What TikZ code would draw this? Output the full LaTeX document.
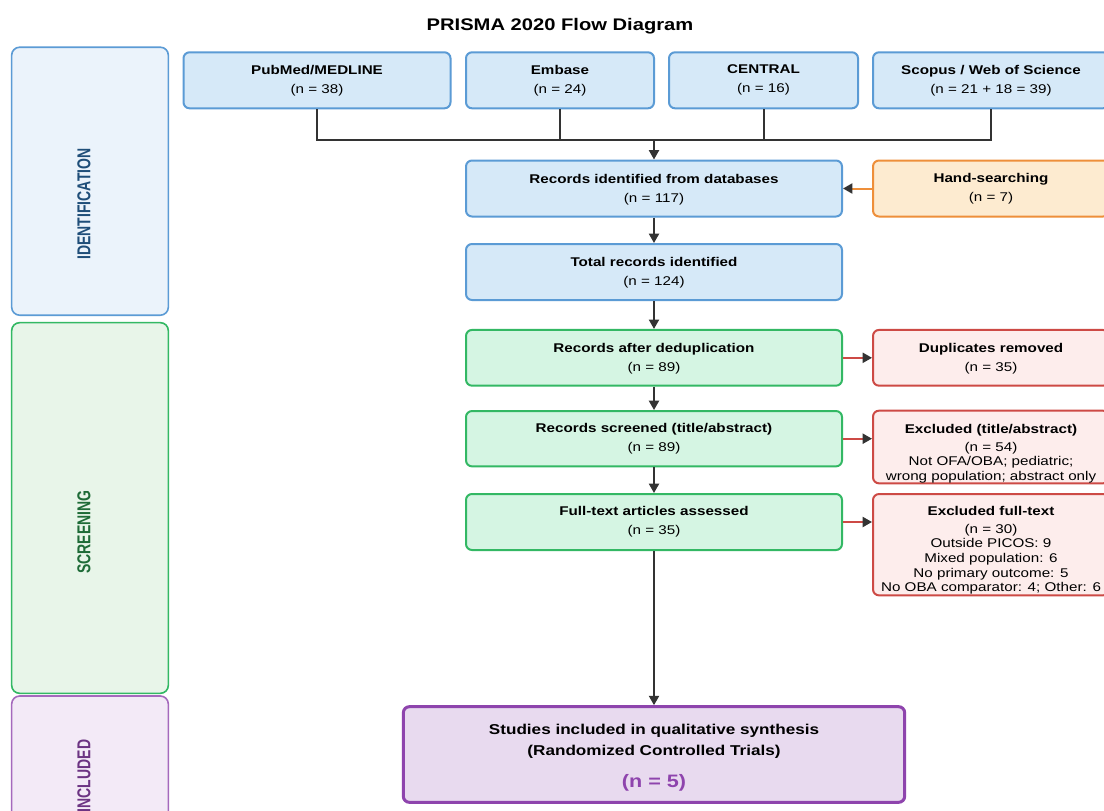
\documentclass[tikz,border=0pt]{standalone}
\usepackage{fontspec}
\setmainfont{Liberation Sans}[FakeStretch=1.2]
\newfontfamily\lanefont{Liberation Sans}[FakeStretch=0.75]
\usetikzlibrary{arrows.meta,positioning}

\definecolor{arrowgray}{HTML}{333333}
\definecolor{idfill}{HTML}{D6E9F8}
\definecolor{iddraw}{HTML}{5B9BD5}
\definecolor{idlane}{HTML}{EBF3FB}
\definecolor{idtext}{HTML}{1F4E79}
\definecolor{scfill}{HTML}{D5F5E3}
\definecolor{scdraw}{HTML}{33B864}
\definecolor{sclane}{HTML}{E8F5E9}
\definecolor{sctext}{HTML}{1E6B37}
\definecolor{exfill}{HTML}{FDEDEC}
\definecolor{exdraw}{HTML}{CD4A45}
\definecolor{hsfill}{HTML}{FDEBD0}
\definecolor{hsdraw}{HTML}{EE8F3A}
\definecolor{infill}{HTML}{E8DAEF}
\definecolor{indraw}{HTML}{8E44AD}
\definecolor{inlane}{HTML}{F3EAF7}
\definecolor{intext}{HTML}{6C3483}

\tikzset{
	box/.style={draw, rounded corners=4.5pt, line width=1.5pt, align=center, inner sep=0pt,
		font=\fontsize{9.5}{14.25}\selectfont},
	idbox/.style={box, fill=idfill, draw=iddraw},
	scbox/.style={box, fill=scfill, draw=scdraw},
	exbox/.style={box, fill=exfill, draw=exdraw, font=\fontsize{9.5}{11}\selectfont},
	hsbox/.style={box, fill=hsfill, draw=hsdraw},
	inbox/.style={box, fill=infill, draw=indraw, line width=2.25pt, font=\fontsize{10.7}{16.3}\selectfont\bfseries},
	lane/.style={draw, rounded corners=6pt, line width=1.2pt, minimum width=117.5pt},
	lanelabel/.style={rotate=90, font=\lanefont\fontsize{14}{16}\selectfont\bfseries},
	flow/.style={draw=arrowgray, line width=1.5pt, -{Triangle[length=7pt,width=7.5pt]}},
	sideflow/.style={line width=1.5pt, -{Triangle[length=7pt,width=7.5pt,color=arrowgray]}},
}

\begin{document}
\begin{tikzpicture}[x=0.75pt,y=-0.75pt]
			%%%%% FRAME %%%%%
			\fill[white] (0,0) rectangle (1104,811);
			\useasboundingbox (0,0) rectangle (1104,811);
			\clip (0,0) rectangle (1104,811);
			
			\node[font=\fontsize{12.6}{15}\selectfont\bfseries, anchor=base] (title) at (560,30.5) {PRISMA 2020 Flow Diagram};
			
			%%%%% LANES %%%%%
			\node[lane, fill=idlane, draw=iddraw, minimum height=201pt] (idlane) at (90,181.2) {};
			\node[lanelabel, text=idtext] (idlabel) at (84,204) {IDENTIFICATION};
			
			\node[lane, fill=sclane, draw=scdraw, minimum height=278pt] (sclane) at (90,508) {};
			\node[lanelabel, text=sctext] (sclabel) at (84,532) {SCREENING};
			
			\node[lane, fill=inlane, draw=indraw!80, minimum height=153pt] (inlane) at (90,798) {};
			\node[lanelabel, text=intext] (inlabel) at (84,776) {INCLUDED};
			
			%%%%% IDENTIFICATION %%%%%
			\node[idbox, minimum width=200.25pt, minimum height=42pt] (pubmed) at (317,80.3) {\textbf{PubMed/MEDLINE}\\(n = 38)};
			\node[idbox, minimum width=141pt, minimum height=42pt] (embase) at (560,80.3) {\textbf{Embase}\\(n = 24)};
			\node[idbox, minimum width=141.75pt, minimum height=42pt] (central) at (763.5,80.3) {\textbf{CENTRAL}\\(n = 16)};
			\node[idbox, minimum width=177pt, minimum height=42pt] (scopus) at (991,80.3) {\textbf{Scopus / Web of Science}\\(n = 21 + 18 = 39)};
			
			\coordinate (merge) at (654,140.3);
			
			\node[idbox, minimum width=282pt, minimum height=42pt] (records) at (654,188.5) {\rule{0pt}{8.5pt}\textbf{Records identified from databases}\\(n = 117)};
			\node[hsbox, minimum width=177pt, minimum height=42pt] (hand) at (991,188.5) {\textbf{Hand-searching}\\(n = 7)};
			\node[idbox, minimum width=282pt, minimum height=42pt] (total) at (654,272) {\rule{0pt}{8.5pt}\textbf{Total records identified}\\(n = 124)};
			
			%%%%% SCREENING %%%%%
			\node[scbox, minimum width=282pt, minimum height=41.8pt] (dedup) at (654,357.8) {\rule{0pt}{9pt}\textbf{Records after deduplication}\\(n = 89)};
			\node[exbox, minimum width=177pt, minimum height=41.8pt, font=\fontsize{9.5}{14.25}\selectfont] (dupes) at (991,357.8) {\rule{0pt}{9pt}\textbf{Duplicates removed}\\(n = 35)};
			
			\node[scbox, minimum width=282pt, minimum height=41.5pt] (screened) at (654,438.7) {\textbf{Records screened (title/abstract)}\\(n = 89)};
			\node[exbox, minimum width=177pt, minimum height=54.5pt] (extiab) at (991,447) {\rule{0pt}{16.5pt}\textbf{Excluded (title/abstract)}\\[2.5pt](n = 54)\\Not OFA/OBA; pediatric;\\wrong population; abstract only};
			
			\node[scbox, minimum width=282pt, minimum height=42pt] (fulltext) at (654,522) {\textbf{Full-text articles assessed}\\(n = 35)};
			\node[exbox, minimum width=177pt, minimum height=76pt] (exfull) at (991,544.7) {\rule{0pt}{15pt}\textbf{Excluded full-text}\\[2.5pt](n = 30)\\Outside PICOS: 9\\Mixed population: 6\\No primary outcome: 5\\No OBA comparator: 4; Other: 6};
			
			%%%%% INCLUDED %%%%%
			\node[inbox, minimum width=376pt, minimum height=71.7pt] (included) at (654,754.5) {\rule{0pt}{12.5pt}Studies included in qualitative synthesis\\(Randomized Controlled Trials)\\[7.5pt]{\fontsize{13.5}{16}\selectfont\textcolor{indraw}{(n = 5)}}};
			
			%%%%% CONNECTORS %%%%%
			\draw[arrowgray, line width=1.5pt] (pubmed.south) |- (merge) -| (scopus.south);
			\draw[arrowgray, line width=1.5pt] (embase.south) -- (embase.south |- merge);
			\draw[arrowgray, line width=1.5pt] (central.south) -- (central.south |- merge);
			\draw[flow] (merge) -- (records.north);
			
			\draw[sideflow, draw=hsdraw] (hand.west) -- (records.east);
			\draw[flow] (records.south) -- (total.north);
			\draw[flow] (total.south) -- (dedup.north);
			\draw[flow] (dedup.south) -- (screened.north);
			\draw[flow] (screened.south) -- (fulltext.north);
			\draw[flow] (fulltext.south) -- (included.north);
			
			\draw[sideflow, draw=exdraw] (dedup.east) -- (dupes.west);
			\draw[sideflow, draw=exdraw] (screened.east) -- (screened.east -| extiab.west);
			\draw[sideflow, draw=exdraw] (fulltext.east) -- (fulltext.east -| exfull.west);
			
\end{tikzpicture}
\end{document}
